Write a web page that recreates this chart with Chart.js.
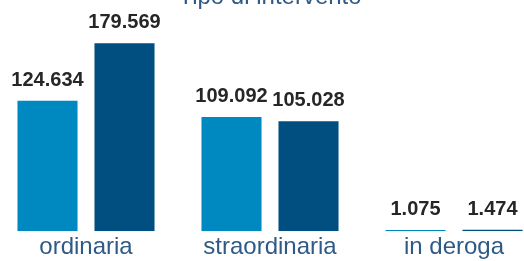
<!DOCTYPE html>
<html>
<head>
<meta charset="utf-8">
<script src="https://cdn.jsdelivr.net/npm/chart.js@4.4.1/dist/chart.umd.min.js"></script>
<style>
    html, body { margin: 0; padding: 0; background: #ffffff; overflow: hidden; }
    body { width: 524px; height: 261px; position: relative; }
    #wrap { position: absolute; left: -6px; top: -20px; width: 552px; height: 284px; }
</style>
</head>
<body>
<div id="wrap"><canvas id="tipoChart"></canvas></div>
<script>
// Tipo di intervento
var categories = ['ordinaria', 'straordinaria', 'in deroga'];
var serieA = [124634, 109092, 1075];
var serieB = [179569, 105028, 1474];

function formatIt(v) {
    return String(v).replace(/\B(?=(\d{3})+(?!\d))/g, '.');
}

// etichette sopra le barre
var valueLabels = {
    id: 'valueLabels',
    afterDatasetsDraw: function (chart) {
        var ctx = chart.ctx;
        ctx.save();
        ctx.font = 'bold 20px "Liberation Sans", Arial, sans-serif';
        ctx.fillStyle = '#262626';
        ctx.textAlign = 'center';
        ctx.textBaseline = 'alphabetic';
        chart.data.datasets.forEach(function (ds, i) {
            chart.getDatasetMeta(i).data.forEach(function (bar, j) {
                ctx.fillText(formatIt(ds.data[j]), bar.x, bar.y - 15);
            });
        });
        ctx.restore();
    }
};

var ctx = document.getElementById('tipoChart').getContext('2d');
var tipoChart = new Chart(ctx, {
    type: 'bar',
    data: {
        labels: categories,
        datasets: [{
            label: 'A',
            data: serieA,
            backgroundColor: '#0088c0'
        }, {
            label: 'B',
            data: serieB,
            backgroundColor: '#004f80'
        }]
    },
    options: {
        responsive: true,
        maintainAspectRatio: false,
        animation: false,
        categoryPercentage: 0.837,
        barPercentage: 0.78,
        layout: { padding: 0 },
        scales: {
            x: {
                grid: { display: false, drawTicks: false },
                border: { display: false },
                ticks: {
                    padding: 2,
                    color: '#2f5a86',
                    font: { family: '"Liberation Sans", Arial, sans-serif', size: 24, lineHeight: 1.2 }
                }
            },
            y: {
                display: false,
                min: 0,
                max: 200000
            }
        },
        plugins: {
            legend: { display: false },
            tooltip: { enabled: false },
            title: {
                display: true,
                text: 'Tipo di intervento',
                color: '#2f5a86',
                font: { family: '"Liberation Sans", Arial, sans-serif', size: 24, weight: 'normal', lineHeight: 1.2 },
                padding: { top: 3, bottom: 10 }
            }
        }
    },
    plugins: [valueLabels]
});
</script>
</body>
</html>
